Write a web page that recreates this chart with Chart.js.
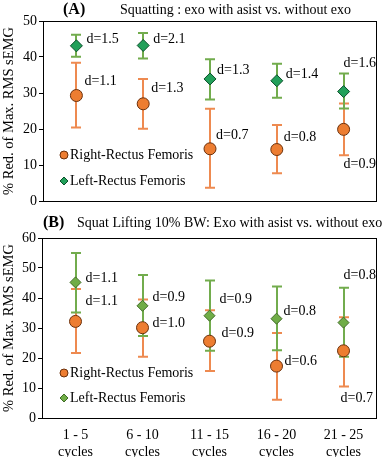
<!DOCTYPE html>
<html><head><meta charset="utf-8">
<script src="https://cdn.jsdelivr.net/npm/chart.js@4.4.0/dist/chart.umd.min.js"></script>
<style>
html,body{margin:0;padding:0;background:#fff;}
#wrap{position:relative;width:384px;height:457px;overflow:hidden;background:#fff;}
canvas{position:absolute;left:0;}
#chartA{top:0;}
#chartB{top:205px;}
</style></head><body>
<div id="wrap">
<canvas id="chartA" width="384" height="212"></canvas>
<canvas id="chartB" width="384" height="252"></canvas>
</div>
<script>
// ---------- DATA ----------
const categories = [["1 - 5","cycles"],["6 - 10","cycles"],["11 - 15","cycles"],["16 - 20","cycles"],["21 - 25","cycles"]];
const seriesNames = ["Right-Rectus Femoris","Left-Rectus Femoris"];
const yAxisTitle = "% Red. of Max. RMS sEMG";

// Panel A: Squatting
const aRightMean = [29.3, 27.0, 14.5, 14.3, 19.9];
const aRightLow  = [20.4, 20.1, 3.7, 7.7, 12.7];
const aRightHigh = [38.4, 33.9, 25.6, 21.1, 27.1];
const aLeftMean  = [43.1, 43.2, 33.9, 33.4, 30.4];
const aLeftLow   = [40.1, 39.6, 28.2, 28.7, 25.7];
const aLeftHigh  = [46.2, 46.7, 39.4, 38.1, 35.4];
const aRightD = ["d=1.1","d=1.3","d=0.7","d=0.8","d=0.9"];
const aLeftD  = ["d=1.5","d=2.1","d=1.3","d=1.4","d=1.6"];
const aYTicks = [0, 10, 20, 30, 40, 50];

// Panel B: Squat Lifting 10% BW
const bRightMean = [32.2, 30.1, 25.6, 17.3, 22.4];
const bRightLow  = [21.7, 20.4, 15.7, 6.1, 10.5];
const bRightHigh = [43.0, 39.5, 35.9, 28.3, 33.6];
const bLeftMean  = [45.2, 37.4, 34.1, 33.1, 31.8];
const bLeftLow   = [35.2, 27.3, 22.4, 22.6, 20.4];
const bLeftHigh  = [55.0, 47.7, 45.8, 43.8, 43.4];
const bRightD = ["d=1.1","d=1.0","d=0.9","d=0.6","d=0.7"];
const bLeftD  = ["d=1.1","d=0.9","d=0.9","d=0.8","d=0.8"];
const bYTicks = [0, 10, 20, 30, 40, 50, 60];

// ---------- STYLE / LAYOUT (not data) ----------
const FONT = "'Liberation Serif','Times New Roman',serif";
Chart.defaults.font.family = FONT;
Chart.defaults.font.size = 14;
Chart.defaults.color = '#000';

const ORANGE = '#ED7D31', ORANGE_EDGE = '#6B300B', ORANGE_ERR = '#EE8A50';
const GREEN_A = '#22A05A', GREEN_A_EDGE = '#0B4F2A';
const GREEN_B = '#70AD47', GREEN_B_EDGE = '#3F6B25';
const GREEN_ERR = '#72AC4D';

// label offsets (px from point centre to text left/middle)
const aRightOff = [[8,-14],[8,-15],[6,-13],[7,-12],[0,35]];
const aLeftOff  = [[10,-7],[10,-6],[7,-9],[9,-6],[0,-28]];
const bRightOff = [[10,-20],[10,-4],[12,-8],[8,-5],[-3,48]];
const bLeftOff  = [[10,-4],[10,-8],[10,-16],[7,-7],[0,-47]];

const errorBars = {
  id: 'errorBars',
  beforeDatasetsDraw(chart) {
    const {ctx, scales: {y}} = chart;
    chart.data.datasets.forEach((ds, i) => {
      if (!ds.errLow) return;
      const meta = chart.getDatasetMeta(i);
      ctx.save();
      ctx.strokeStyle = ds.errColor;
      ctx.lineWidth = 2;
      meta.data.forEach((pt, j) => {
        const px = Math.round(pt.x);
        const yl = y.getPixelForValue(ds.errLow[j]);
        const yh = y.getPixelForValue(ds.errHigh[j]);
        ctx.beginPath();
        ctx.moveTo(px, yl); ctx.lineTo(px, yh);
        ctx.moveTo(px - 5, yl); ctx.lineTo(px + 5, yl);
        ctx.moveTo(px - 5, yh); ctx.lineTo(px + 5, yh);
        ctx.stroke();
      });
      ctx.restore();
    });
  }
};

const decorations = {
  id: 'decorations',
  afterDraw(chart, args, opts) {
    const {ctx, chartArea: ca} = chart;
    ctx.save();
    // frame
    ctx.strokeStyle = '#000'; ctx.lineWidth = 1;
    ctx.strokeRect(Math.round(ca.left) + 0.5, Math.round(ca.top) + 0.5,
                   Math.round(ca.right - ca.left) - 1, Math.round(ca.bottom - ca.top));
    // panel title
    ctx.fillStyle = '#000';
    ctx.textBaseline = 'middle';
    ctx.textAlign = 'left';
    ctx.font = 'bold 16px ' + FONT;
    ctx.fillText(opts.tag, opts.tagX, opts.titleY);
    ctx.font = '14px ' + FONT;
    ctx.fillText(opts.title, opts.titleX, opts.titleY);
    // legend
    const lg = opts.legend;
    chart.data.datasets.forEach((ds, i) => {
      const yy = lg.y[i];
      ctx.fillStyle = ds.backgroundColor;
      ctx.strokeStyle = ds.borderColor;
      ctx.lineWidth = 1;
      Chart.helpers.drawPoint(ctx, {pointStyle: ds.pointStyle, radius: lg.r, borderWidth: 1}, lg.x, yy);
      ctx.fillStyle = '#000';
      ctx.font = '14px ' + FONT;
      ctx.fillText(ds.label, lg.x + 6, yy);
    });
    ctx.restore();
  },
  afterDatasetsDraw(chart) {
    const {ctx} = chart;
    ctx.save();
    ctx.fillStyle = '#000';
    ctx.font = '14px ' + FONT;
    ctx.textBaseline = 'middle';
    ctx.textAlign = 'left';
    chart.data.datasets.forEach((ds, i) => {
      const meta = chart.getDatasetMeta(i);
      meta.data.forEach((pt, j) => {
        const o = ds.labelOffsets[j];
        ctx.fillText(ds.dLabels[j], pt.x + o[0], pt.y + o[1]);
      });
    });
    ctx.restore();
  }
};

function makeChart(id, cfg) {
  return new Chart(document.getElementById(id), {
    type: 'line',
    data: {
      labels: categories,
      datasets: [
        {
          label: seriesNames[0], data: cfg.rMean, errLow: cfg.rLow, errHigh: cfg.rHigh,
          errColor: ORANGE_ERR, dLabels: cfg.rD, labelOffsets: cfg.rOff,
          showLine: false, pointStyle: 'circle', pointRadius: 6, pointHoverRadius: 6,
          backgroundColor: ORANGE, borderColor: ORANGE_EDGE, pointBorderWidth: 1, borderWidth: 1,
          order: 0
        },
        {
          label: seriesNames[1], data: cfg.lMean, errLow: cfg.lLow, errHigh: cfg.lHigh,
          errColor: GREEN_ERR, dLabels: cfg.lD, labelOffsets: cfg.lOff,
          showLine: false, pointStyle: 'rectRot', pointRadius: cfg.diamondR, pointHoverRadius: cfg.diamondR,
          backgroundColor: cfg.green, borderColor: cfg.greenEdge, pointBorderWidth: 1, borderWidth: 1,
          order: 1
        }
      ]
    },
    options: {
      responsive: false,
      animation: false,
      events: [],
      layout: {padding: cfg.padding},
      plugins: {
        legend: {display: false},
        tooltip: {enabled: false},
        decorations: cfg.deco
      },
      scales: {
        x: {
          type: 'category', offset: true,
          grid: {display: false},
          border: {display: false},
          ticks: {display: cfg.showX, padding: 1, maxRotation: 0, font: {size: 14, lineHeight: 1.2}},
          afterFit(s) { s.height = cfg.xHeight; }
        },
        y: {
          min: cfg.yTicks[0], max: cfg.yTicks[cfg.yTicks.length - 1],
          afterBuildTicks(s) { s.ticks = cfg.yTicks.map(v => ({value: v})); },
          grid: {display: true, drawOnChartArea: false, drawTicks: true, tickLength: 4, color: '#000', tickColor: '#000'},
          border: {display: false},
          ticks: {padding: 2, font: {size: 14}},
          title: {display: true, text: yAxisTitle, font: {size: 14.5}, padding: {top: 0, bottom: 0}},
          afterFit(s) { s.width = cfg.yWidth; }
        }
      }
    },
    plugins: [errorBars, decorations]
  });
}

makeChart('chartA', {
  rMean: aRightMean, rLow: aRightLow, rHigh: aRightHigh, rD: aRightD, rOff: aRightOff,
  lMean: aLeftMean, lLow: aLeftLow, lHigh: aLeftHigh, lD: aLeftD, lOff: aLeftOff,
  yTicks: aYTicks, green: GREEN_A, greenEdge: GREEN_A_EDGE, diamondR: 6,
  padding: {top: 21, right: 3, bottom: 11, left: 0}, xHeight: 0, showX: false, yWidth: 43,
  deco: {tag: '(A)', tagX: 63, title: 'Squatting : exo with asist vs. without exo', titleX: 120, titleY: 10,
         legend: {x: 64, y: [155, 181], r: 4}}
});

makeChart('chartB', {
  rMean: bRightMean, rLow: bRightLow, rHigh: bRightHigh, rD: bRightD, rOff: bRightOff,
  lMean: bLeftMean, lLow: bLeftLow, lHigh: bLeftHigh, lD: bLeftD, lOff: bLeftOff,
  yTicks: bYTicks, green: GREEN_B, greenEdge: GREEN_B_EDGE, diamondR: 5.5,
  padding: {top: 33, right: 3, bottom: 0, left: 0}, xHeight: 39, showX: true, yWidth: 42,
  deco: {tag: '(B)', tagX: 43, title: 'Squat Lifting 10% BW: Exo with asist vs. without exo', titleX: 77, titleY: 18,
         legend: {x: 64, y: [168, 193], r: 4}}
});
</script>
</body></html>
